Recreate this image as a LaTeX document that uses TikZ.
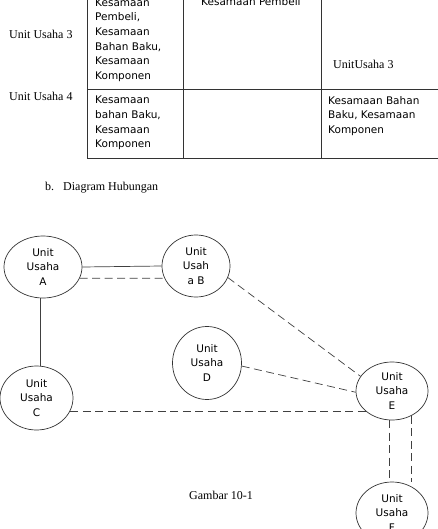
\documentclass[tikz,border=0pt]{standalone}
\usepackage{fontspec}
\setmainfont{Liberation Serif}
\newfontfamily\dejavu{DejaVu Sans}
\usepackage{tikz}
\usetikzlibrary{calc,positioning,shapes.geometric}
\tikzset{
  unit/.style={draw=black!80, line width=0.7pt, ellipse, inner sep=0pt, align=center,
    font=\dejavu\fontsize{10.5}{14.6}\selectfont},
  cell/.style={anchor=north west, inner sep=0pt, align=left,
    font=\dejavu\fontsize{10.5}{14.6}\selectfont},
  serif/.style={anchor=base west, inner sep=0pt, font=\fontsize{12}{14}\selectfont},
  rel/.style={draw=black!75, line width=0.7pt},
  relmiss/.style={rel, dash pattern=on 8pt off 4.5pt}
}

\begin{document}
\begin{tikzpicture}[x=1pt,y=-1pt]
\path[use as bounding box, clip] (0,0) rectangle (438,529);
\fill[white] (0,0) rectangle (438,529);
\draw[black!80, line width=0.9pt] (87,-10) coordinate(T1) -- (87,158) coordinate(B1) -- (450,158) coordinate(B3);
\draw[black!80, line width=0.9pt] (87,89) coordinate(M1) -- (450,89) coordinate(M3);
\draw[black!80, line width=0.9pt] (183,-10) coordinate(T2) -- (183,158) coordinate(B2);
\draw[black!80, line width=0.9pt] (321,-10) coordinate(T3) -- (321,158) coordinate(B4);
\node[serif] (r3) at (9,39) {Unit Usaha 3};
\node[serif] (r4) at (9,100.5) {Unit Usaha 4};
\node[cell] (c11) at (95,-1.5) {Kesamaan\\Pembeli,\\Kesamaan\\Bahan Baku,\\Kesamaan\\Komponen};
\node[cell] (c12) at (201,-2.5) {Kesamaan Pembeli};
\node[serif] (c13) at (333,69) {UnitUsaha 3};
\node[cell] (c21) at (95,96) {Kesamaan\\bahan Baku,\\Kesamaan\\Komponen};
\node[cell] (c23) at (328,96) {Kesamaan Bahan\\Baku, Kesamaan\\Komponen};
\node[serif] (sub) at (45,191) {b.\hspace{9pt}Diagram Hubungan};

\node[unit, minimum width=78, minimum height=62] (A) at (43,267) {Unit\\Usaha\\A};
\node[unit, minimum width=68, minimum height=62] (B) at (196,266) {Unit\\Usah\\a B};
\node[unit, minimum width=73, minimum height=64] (C) at (36.5,398) {Unit\\Usaha\\C};
\node[unit, minimum width=69, minimum height=73] (D) at (207,363) {Unit\\Usaha\\D};
\node[unit, minimum width=72, minimum height=58] (E) at (392,391) {Unit\\Usaha\\E};
\node[unit, minimum width=72, minimum height=62] (F) at (392,513) {Unit\\Usaha\\F};

\draw[rel] (A.east) -- (B.west);
\draw[relmiss] (A.-17) -- (B.-159);
\draw[rel] (A.-95) -- (A.-95 |- C.north);
\draw[relmiss] (B.-20) -- (E.155);
\draw[relmiss] (D.-5) -- (E.182);
\draw[relmiss] (C.-21) -- (C.-21 -| E.218);
\draw[relmiss] (E.-96) -- (E.-96 |- F.north);
\draw[relmiss] (E.-52) -- (E.-52 |- F.north);

\node[serif] (cap) at (189,499) {Gambar 10-1};
\end{tikzpicture}
\end{document}
